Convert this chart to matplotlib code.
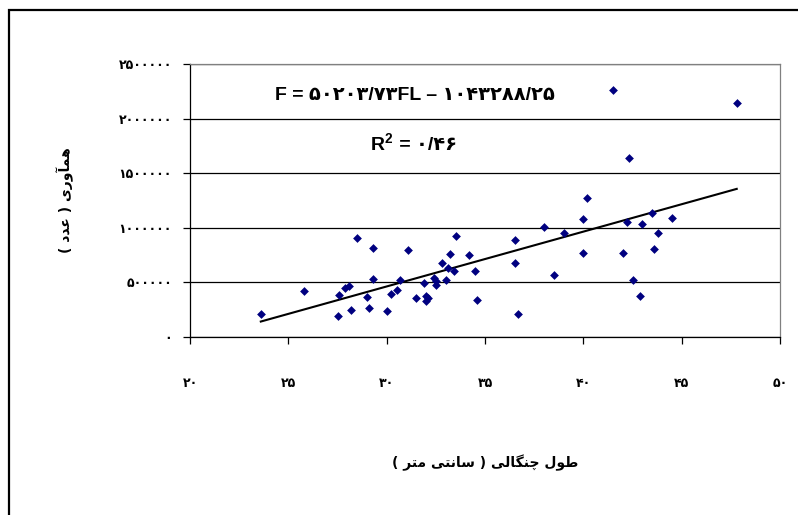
import matplotlib
matplotlib.use("Agg")
import matplotlib.pyplot as plt
from matplotlib.patches import Rectangle
from matplotlib.ticker import FuncFormatter, MultipleLocator

# داده‌ها: طول چنگالی (سانتی متر) و هم‌آوری (عدد)
fork_length = [
    23.6, 25.8, 27.5, 27.6, 27.9, 28.1, 28.2, 28.5, 29.0, 29.1,
    29.3, 29.3, 30.0, 30.2, 30.5, 30.7, 31.1, 31.5, 31.9, 32.0,
    32.0, 32.1, 32.4, 32.5, 32.5, 32.8, 33.0, 33.1, 33.2, 33.4,
    33.5, 34.2, 34.5, 34.6, 36.5, 36.5, 36.7, 38.0, 38.5, 39.0,
    40.0, 40.0, 40.2, 41.5, 42.0, 42.2, 42.3, 42.5, 42.9, 43.0,
    43.5, 43.6, 43.8, 44.5, 47.8,
]
fecundity = [
    212000, 418000, 190000, 387000, 453000, 467000, 249000, 909000, 370000, 268000,
    816000, 532000, 240000, 392000, 428000, 520000, 795000, 360000, 496000, 378000,
    326000, 360000, 542000, 515000, 478000, 681000, 523000, 636000, 763000, 600000,
    923000, 749000, 600000, 340000, 887000, 680000, 212000, 1009000, 567000, 950000,
    1079000, 770000, 1270000, 2264000, 770000, 1052000, 1636000, 521000, 373000, 1033000,
    1133000, 806000, 955000, 1091000, 2145000,
]
slope = 50203.73
intercept = -1043288.25

eq_text = "F = ۵۰۲۰۳/۷۳FL – ۱۰۴۳۲۸۸/۲۵"
r2_label = r"$\mathbf{R^2}$"
r2_value = " = ۰/۴۶"
x_title = "طول چنگالی ( سانتی متر )"
y_title = "همآوری ( عدد )"

# matplotlib حروف فارسی را نمی‌چسباند؛ شکل‌های نمایشی را دستی می‌سازیم
_FORMS = {  # isol, fin, init, medi
    "ا": (0xFE8D, 0xFE8E), "آ": (0xFE81, 0xFE82), "د": (0xFEA9, 0xFEAA),
    "ر": (0xFEAD, 0xFEAE), "و": (0xFEED, 0xFEEE),
    "ه": (0xFEE9, 0xFEEA, 0xFEEB, 0xFEEC), "م": (0xFEE1, 0xFEE2, 0xFEE3, 0xFEE4),
    "ع": (0xFEC9, 0xFECA, 0xFECB, 0xFECC), "ط": (0xFEC1, 0xFEC2, 0xFEC3, 0xFEC4),
    "ل": (0xFEDD, 0xFEDE, 0xFEDF, 0xFEE0), "ن": (0xFEE5, 0xFEE6, 0xFEE7, 0xFEE8),
    "س": (0xFEB1, 0xFEB2, 0xFEB3, 0xFEB4), "ت": (0xFE95, 0xFE96, 0xFE97, 0xFE98),
    "چ": (0xFB7A, 0xFB7B, 0xFB7C, 0xFB7D), "گ": (0xFB92, 0xFB93, 0xFB94, 0xFB95),
    "ی": (0xFBFC, 0xFBFD, 0xFBFE, 0xFBFF),
}


def rtl(s):
    out = []
    for i, c in enumerate(s):
        f = _FORMS.get(c)
        if f is None:
            out.append(c)
            continue
        prev = s[i - 1] if i > 0 else ""
        nxt = s[i + 1] if i + 1 < len(s) else ""
        jp = prev in _FORMS and len(_FORMS[prev]) == 4
        jn = len(f) == 4 and nxt in _FORMS
        k = 3 if (jp and jn) else 1 if jp else 2 if jn else 0
        out.append(chr(f[k]))
    vis = "".join(reversed(out))
    return vis.translate(str.maketrans("()", ")("))


fa_digits = str.maketrans("0123456789", "۰۱۲۳۴۵۶۷۸۹")
fa_fmt = FuncFormatter(lambda v, _: str(int(round(v))).translate(fa_digits))

plt.rcParams["font.family"] = ["DejaVu Sans"]
plt.rcParams["mathtext.fontset"] = "custom"
plt.rcParams["mathtext.rm"] = "Liberation Sans:bold"
plt.rcParams["mathtext.bf"] = "Liberation Sans:bold"

fig = plt.figure(figsize=(7.98, 5.15), dpi=100)
ax = fig.add_axes([190 / 798, 1 - 337 / 515, 590 / 798, 273 / 515])

ax.scatter(fork_length, fecundity, marker="D", s=20, color="#000080", lw=0, zorder=3)
x0, x1 = min(fork_length), max(fork_length)
ax.plot([x0, x1], [slope * x0 + intercept, slope * x1 + intercept],
        color="black", lw=1.5, zorder=2)

ax.set_xlim(20, 50)
ax.set_ylim(0, 2500000)
ax.xaxis.set_major_locator(MultipleLocator(5))
ax.yaxis.set_major_locator(MultipleLocator(500000))
ax.xaxis.set_major_formatter(fa_fmt)
ax.yaxis.set_major_formatter(fa_fmt)
ax.grid(axis="y", color="black", lw=0.9)
ax.set_axisbelow(True)

for side in ("left", "bottom"):
    ax.spines[side].set_color("black")
    ax.spines[side].set_linewidth(0.9)
for side in ("top", "right"):
    ax.spines[side].set_color("#808080")
    ax.spines[side].set_linewidth(0.9)

ax.tick_params(axis="y", direction="out", length=5, width=0.9, pad=8,
               labelsize=9)
ax.tick_params(axis="x", direction="out", length=5, width=0.9, pad=24,
               labelsize=9)
for lab in ax.get_xticklabels() + ax.get_yticklabels():
    lab.set_fontweight("bold")

ax.set_xlabel(rtl(x_title), fontsize=10, fontweight="bold", labelpad=46)
ax.set_ylabel(rtl(y_title), fontsize=10, fontweight="bold", labelpad=32)

txt_fam = ["Liberation Sans", "DejaVu Sans"]
ax.text(0.381, 0.886, eq_text, transform=ax.transAxes, ha="center", va="center",
        fontsize=14, fontweight="bold", family=txt_fam)
ax.text(0.345, 0.71, r2_label, transform=ax.transAxes, ha="right", va="center",
        fontsize=14)
ax.text(0.345, 0.70, r2_value, transform=ax.transAxes, ha="left", va="center",
        fontsize=14, fontweight="bold", family=txt_fam)

# قاب بیرونی نمودار
fig.add_artist(Rectangle((9 / 798, -0.2), 1.2, 1.2 - 10 / 515,
                         transform=fig.transFigure, fill=False,
                         edgecolor="black", lw=1.6))

fig.savefig("out.png", dpi=100)
